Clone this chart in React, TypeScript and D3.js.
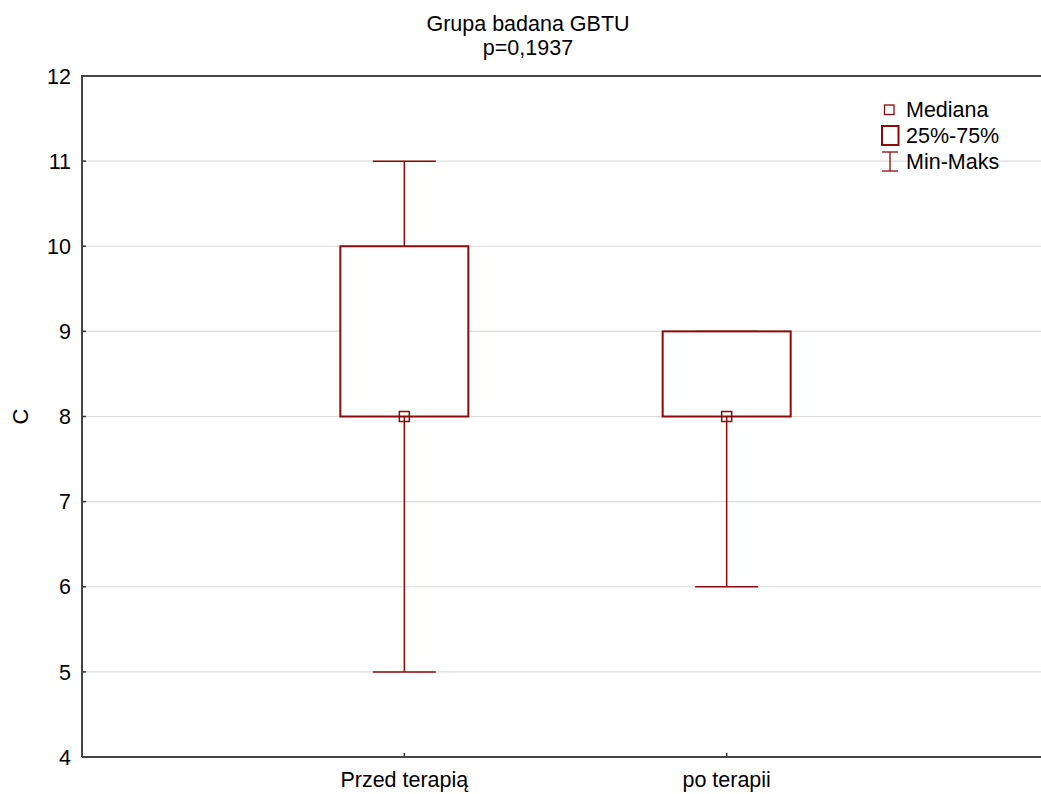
import React from "react";
import * as d3 from "d3";

const categories = ["Przed terapią", "po terapii"];
const medians = [8, 8];
const q1 = [8, 8];
const q3 = [10, 9];
const mins = [5, 6];
const maxs = [11, 9];
const yTicks = [4, 5, 6, 7, 8, 9, 10, 11, 12];
const titleLines = ["Grupa badana GBTU", "p=0,1937"];
const legendItems = ["Mediana", "25%-75%", "Min-Maks"];

const W = 1041;
const H = 794;
const M = { left: 82, top: 76, right: 1049, bottom: 757 };
const RED = "#8b0a0a";
const FONT = "Arial, 'Liberation Sans', sans-serif";
const FS = 21.5;

export default function App() {
  const y = d3.scaleLinear().domain([4, 12]).range([M.bottom, M.top]);
  const x = d3.scaleLinear().domain([0, 3]).range([M.left, M.right]);
  const boxW = 128;
  const capW = 63;
  const med = 10;
  return (
    <svg width={W} height={H} style={{ position: "absolute", left: 0, top: 0, background: "#fff" }} fontFamily={FONT}>
      {yTicks.slice(1, -1).map((t) => (
        <line key={t} x1={M.left} x2={M.right} y1={y(t)} y2={y(t)} stroke="#dcdcdc" strokeWidth={1.2} />
      ))}
      {titleLines.map((t, i) => (
        <text key={t} x={528} y={30.5 + i * 24} textAnchor="middle" fontSize={FS} fill="#000">{t}</text>
      ))}
      <text transform={`translate(28,${y(8)}) rotate(-90)`} textAnchor="middle" fontSize={22} fill="#000">C</text>
      {yTicks.map((t) => (
        <g key={t}>
          <line x1={M.left} x2={M.left + 4} y1={y(t)} y2={y(t)} stroke="#333" strokeWidth={1.5} />
          <text x={M.left - 11} y={y(t)} dy="0.36em" textAnchor="end" fontSize={FS} fill="#000">{t}</text>
        </g>
      ))}
      {categories.map((c, i) => (
        <g key={c}>
          <line x1={x(i + 1)} x2={x(i + 1)} y1={M.bottom} y2={M.bottom - 4} stroke="#333" strokeWidth={1.5} />
          <text x={x(i + 1)} y={787} textAnchor="middle" fontSize={FS} fill="#000">{c}</text>
        </g>
      ))}
      <path d={`M${M.left},${M.bottom}V${M.top}H${M.right + 5}M${M.left},${M.bottom}H${M.right + 5}`} fill="none" stroke="#444" strokeWidth={2} />
      {categories.map((c, i) => {
        const cx = x(i + 1);
        return (
          <g key={c} stroke={RED} fill="none">
            <line x1={cx} x2={cx} y1={y(maxs[i])} y2={y(q3[i])} strokeWidth={1.5} />
            <line x1={cx} x2={cx} y1={y(q1[i])} y2={y(mins[i])} strokeWidth={1.5} />
            <line x1={cx - capW / 2} x2={cx + capW / 2} y1={y(maxs[i])} y2={y(maxs[i])} strokeWidth={1.5} />
            <line x1={cx - capW / 2} x2={cx + capW / 2} y1={y(mins[i])} y2={y(mins[i])} strokeWidth={1.5} />
            <rect x={cx - boxW / 2} y={y(q3[i])} width={boxW} height={y(q1[i]) - y(q3[i])} strokeWidth={2} fill="#fff" />
            <rect x={cx - med / 2} y={y(medians[i]) - med / 2} width={med} height={med} strokeWidth={1.5} />
          </g>
        );
      })}
      <g>
        <rect x={884.5} y={105} width={9.5} height={9.5} fill="none" stroke={RED} strokeWidth={1.3} />
        <rect x={882} y={126} width={16.5} height={19} fill="none" stroke={RED} strokeWidth={2} />
        <line x1={882} x2={898} y1={152} y2={152} stroke={RED} strokeWidth={1.3} />
        <line x1={882} x2={898} y1={171} y2={171} stroke={RED} strokeWidth={1.3} />
        <line x1={890} x2={890} y1={152} y2={171} stroke={RED} strokeWidth={1.3} />
        {legendItems.map((t, i) => (
          <text key={t} x={906} y={117.3 + i * 26} fontSize={FS} fill="#000">{t}</text>
        ))}
      </g>
    </svg>
  );
}
